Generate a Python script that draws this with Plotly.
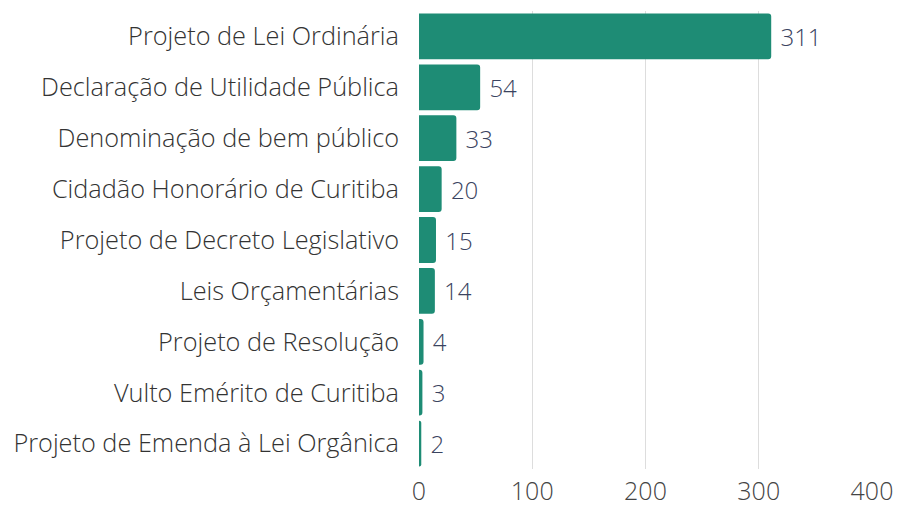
import plotly.graph_objects as go

categories = [
    "Projeto de Lei Ordinária",
    "Declaração de Utilidade Pública",
    "Denominação de bem público",
    "Cidadão Honorário de Curitiba",
    "Projeto de Decreto Legislativo",
    "Leis Orçamentárias",
    "Projeto de Resolução",
    "Vulto Emérito de Curitiba",
    "Projeto de Emenda à Lei Orgânica",
]
values = [311, 54, 33, 20, 15, 14, 4, 3, 2]
tick_vals = [0, 100, 200, 300, 400]

fig = go.Figure(go.Bar(
    x=values,
    y=categories,
    orientation="h",
    marker=dict(color="#1e8c75", cornerradius=3, line=dict(width=0)),
    text=["\u00a0" + str(v) for v in values],
    textposition="outside",
    cliponaxis=False,
    textfont=dict(family="Open Sans", size=24, color="#3a4360", weight=300),
    hoverinfo="skip",
))

fig.update_layout(
    width=901, height=507,
    margin=dict(l=419, r=29, t=11, b=38, autoexpand=False),
    paper_bgcolor="white", plot_bgcolor="white",
    bargap=0.1,
    showlegend=False,
    font=dict(family="Open Sans", size=25.3, color="#333333", weight=300),
)
fig.update_xaxes(
    range=[0, 400], tickvals=tick_vals, showgrid=True, gridcolor="#dddddd", gridwidth=1,
    zeroline=False, showline=False, ticks="", automargin=False,
    ticklabelstandoff=5,
    tickfont=dict(family="Open Sans", size=25, color="#444444", weight=300),
)
fig.update_yaxes(
    autorange="reversed", showgrid=False, zeroline=False, showline=False, ticks="",
    ticklabelstandoff=19, automargin=False,
    tickfont=dict(family="Open Sans", size=25.3, color="#333333", weight=300),
)

fig.write_html(
    "out.html",
    config={"displayModeBar": False},
    post_script="document.body.style.margin='0';document.body.style.overflow='hidden';",
)
